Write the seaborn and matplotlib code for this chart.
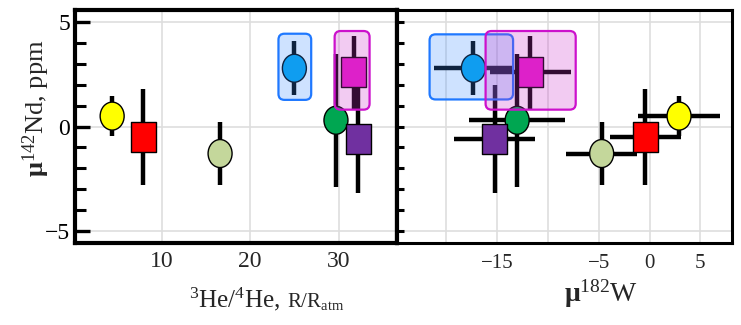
import numpy as np
import pandas as pd
import matplotlib
matplotlib.use("Agg")
import matplotlib.pyplot as plt
import seaborn as sns
from matplotlib.path import Path
from matplotlib.transforms import Affine2D
from matplotlib.patches import FancyBboxPatch
from matplotlib.ticker import FixedLocator, MultipleLocator

# ---- data -------------------------------------------------------------
samples = ["yellow", "red", "sage", "blue", "green", "purple", "magenta"]
he3_he4 = [4.4, 7.9, 16.6, 25.0, 29.7, 32.2, 31.7]          # R/Ratm
mu182w = [2.9, -0.4, -4.7, -17.3, -13.0, -15.2, -11.7]
mu182w_err = [4.0, 3.5, 3.5, 3.9, 4.7, 4.0, 4.0]
mu142nd = [0.5, -0.5, -1.3, 2.8, 0.3, -0.6, 2.6]             # ppm
mu142nd_err = [0.95, 2.3, 1.5, 1.3, 3.2, 2.6, 1.75]
shapes = ["oval", "box", "oval", "oval", "oval", "box", "box"]
colors = ["#FFFF00", "#FF0000", "#C4D79B", "#00A3EC", "#00A651", "#7030A0", "#E31CC8"]

# highlighted groups: (x0, y0, x1, y1) in data units
left_boxes = {"blue": (23.2, 1.28, 26.9, 4.46), "magenta": (29.55, 0.81, 33.5, 4.59)}
right_boxes = {"blue": (-21.6, 1.30, -13.4, 4.43), "magenta": (-16.1, 0.81, -7.25, 4.59)}
box_styles = {"blue": ("#1F78FF", "#3C8CFF"), "magenta": ("#CC11CC", "#CC33CC")}

df = pd.DataFrame({"sample": samples, "he": he3_he4, "w": mu182w, "w_err": mu182w_err,
                   "nd": mu142nd, "nd_err": mu142nd_err, "shape": shapes})
palette = dict(zip(samples, colors))

# ---- style ------------------------------------------------------------
sns.set_theme(style="whitegrid")
plt.rcParams["font.family"] = ["Liberation Serif", "DejaVu Serif"]
plt.rcParams["mathtext.fontset"] = "custom"
plt.rcParams["mathtext.rm"] = "Liberation Serif"
plt.rcParams["mathtext.it"] = "Liberation Serif:italic"
plt.rcParams["mathtext.bf"] = "Liberation Serif:bold"
plt.rcParams["axes.unicode_minus"] = True

oval = Path.unit_circle().transformed(Affine2D().scale(24 / 28, 1.0))
w = 25 / 30
rect = Path([(-w, -1), (w, -1), (w, 1), (-w, 1), (-w, -1)],
            [Path.MOVETO, Path.LINETO, Path.LINETO, Path.LINETO, Path.CLOSEPOLY])
marker_paths = {"oval": oval, "box": rect}
marker_sizes = {"oval": 406, "box": 466}

fig = plt.figure(figsize=(7.41, 3.25), dpi=100)
ax1 = fig.add_axes([75 / 741, 82 / 325, 322 / 741, 233 / 325])
ax2 = fig.add_axes([397 / 741, 82 / 325, 335 / 741, 233 / 325])

ylim = (-5.6, 5.6)
ax1.set_xlim(0.2, 36.6)
ax2.set_xlim(-24.8, 8.1)
for ax in (ax1, ax2):
    ax.set_ylim(*ylim)
    ax.set_facecolor("white")
    ax.set_axisbelow(True)
    ax.yaxis.set_major_locator(FixedLocator([-5, 0, 5]))
    ax.yaxis.set_minor_locator(MultipleLocator(1))


def add_box(ax, x0, y0, x1, y1, edge, fill, radius_px=6):
    p = ax.transData.transform([(0, 0), (1, 1)])
    sx, sy = p[1] - p[0]
    patch = FancyBboxPatch((x0, y0), x1 - x0, y1 - y0,
                           boxstyle=f"round,pad=0,rounding_size={radius_px / sx}",
                           mutation_aspect=sx / sy,
                           facecolor=matplotlib.colors.to_rgba(fill, 0.25),
                           edgecolor=edge, lw=1.6, zorder=5)
    ax.add_patch(patch)


# ---- left: 3He/4He vs mu142Nd -------------------------------------------
ax1.errorbar(df["he"], df["nd"], yerr=df["nd_err"], fmt="none", ecolor="black",
             elinewidth=3.2, capsize=0, zorder=2)
sns.scatterplot(data=df, x="he", y="nd", hue="sample", palette=palette,
                style="shape", markers=marker_paths, size="shape", sizes=marker_sizes,
                edgecolor="black", linewidth=1.0, legend=False, ax=ax1, zorder=3)
for k, (x0, y0, x1, y1) in left_boxes.items():
    add_box(ax1, x0, y0, x1, y1, *box_styles[k])

# ---- right: mu182W vs mu142Nd -------------------------------------------
ax2.errorbar(df["w"], df["nd"], xerr=df["w_err"], yerr=df["nd_err"], fmt="none",
             ecolor="black", elinewidth=3.2, capsize=0, zorder=2)
sns.scatterplot(data=df, x="w", y="nd", hue="sample", palette=palette,
                style="shape", markers=marker_paths, size="shape", sizes=marker_sizes,
                edgecolor="black", linewidth=1.0, legend=False, ax=ax2, zorder=3)
for k, (x0, y0, x1, y1) in right_boxes.items():
    add_box(ax2, x0, y0, x1, y1, *box_styles[k])

# ---- axes cosmetics ---------------------------------------------------
for ax in (ax1, ax2):
    ax.set_xlabel("")
    ax.set_ylabel("")
    ax.grid(True, which="major", color="#DEDEDE", lw=1.2)
    ax.grid(False, which="minor")

ax1.set_xticks([10, 20, 30])
ax1.tick_params(axis="x", length=0, labelsize=17, pad=6)
ax1.tick_params(axis="y", which="major", direction="in", length=11, width=2.4,
                labelsize=17, pad=3.5, left=True, right=False, colors="black")
ax1.tick_params(axis="y", which="minor", direction="in", length=8, width=2.2,
                left=True, right=False, color="black")
for s in ax1.spines.values():
    s.set_color("black")
    s.set_linewidth(3.0)

ax2.set_xticks([-20, -15, -10, -5, 0, 5])
ax2.set_xticklabels(["", "\u221215", "", "\u22125", "0", "5"])
ax2.tick_params(axis="x", length=0, labelsize=15, pad=8)
ax2.tick_params(axis="y", which="both", direction="in", length=5, width=2.2,
                labelleft=False, left=True, right=False, color="black")
for name, s in ax2.spines.items():
    s.set_color("black")
    s.set_linewidth(3.0 if name == "left" else 2.2)

# ---- labels -----------------------------------------------------------
fig.text(36 / 741, 217 / 325, r"$\mathbf{μ}^{142}$Nd, ppm", rotation=90,
         ha="center", va="center", size=19)
fig.text(280 / 741, 18 / 325, r"$^{3}$He/$^{4}$He,", ha="right", va="baseline", size=18)
fig.text(287 / 741, 18 / 325, r"R/R$_{\mathrm{atm}}$", ha="left", va="baseline", size=15)
fig.text(601 / 741, 23 / 325, r"$\mathbf{μ}^{182}$W", ha="center", va="baseline", size=20)

fig.savefig("out.png", dpi=100)
